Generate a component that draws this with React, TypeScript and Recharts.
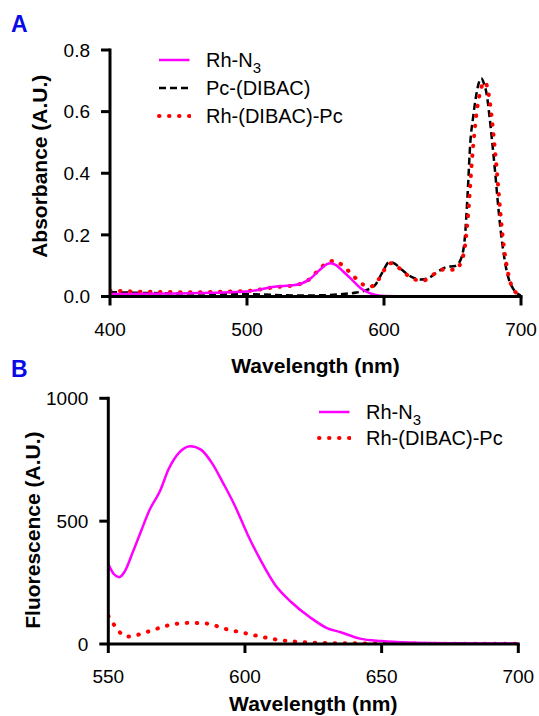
import React from 'react';
import { LineChart, Line, XAxis, YAxis, Legend, Label } from 'recharts';

const FONT = '"Liberation Sans", Arial, Helvetica, sans-serif';

// Panel A: absorbance spectra
const pcWavelength = [400, 420, 450, 480, 500, 520, 540, 555, 570, 580, 588, 594, 599, 604, 608, 613, 620, 627, 633, 640, 646, 652, 656, 659, 661, 663, 665, 667, 669, 671, 673, 675, 677, 679, 681, 683, 685, 687, 689, 691, 694, 697, 700];
const pcAbsorbance = [0.014, 0.012, 0.01, 0.009, 0.008, 0.005, 0.003, 0.004, 0.008, 0.013, 0.022, 0.04, 0.08, 0.112, 0.106, 0.087, 0.064, 0.055, 0.061, 0.083, 0.096, 0.099, 0.12, 0.19, 0.33, 0.5, 0.58, 0.645, 0.69, 0.708, 0.69, 0.655, 0.585, 0.5, 0.41, 0.31, 0.22, 0.15, 0.095, 0.058, 0.027, 0.011, 0.003];

const rhPcWavelength = [400, 430, 460, 500, 520, 535, 545, 552, 558, 564, 570, 578, 585, 590, 595, 600, 605, 611, 620, 628, 637, 645, 652, 656, 659, 662, 664, 666, 668, 670, 672, 673, 675, 677, 679, 681, 683, 685, 687, 689, 692, 696, 700];
const rhPcAbsorbance = [0.019, 0.015, 0.014, 0.018, 0.03, 0.037, 0.054, 0.085, 0.108, 0.116, 0.1, 0.065, 0.038, 0.032, 0.048, 0.085, 0.108, 0.092, 0.06, 0.051, 0.074, 0.089, 0.086, 0.11, 0.16, 0.3, 0.43, 0.53, 0.61, 0.66, 0.69, 0.697, 0.685, 0.64, 0.565, 0.475, 0.375, 0.27, 0.18, 0.115, 0.05, 0.014, 0.004];

const rhWavelength = [400, 450, 500, 520, 535, 545, 553, 558, 561, 565, 570, 576, 583, 590, 595, 600, 620, 660, 700];
const rhAbsorbance = [0.008, 0.01, 0.016, 0.032, 0.037, 0.054, 0.086, 0.104, 0.108, 0.102, 0.082, 0.057, 0.027, 0.01, 0.004, 0.002, 0.001, 0.001, 0.001];

const absTicksX = [400, 500, 600, 700];
const absTicksY = [0, 0.2, 0.4, 0.6, 0.8];

// Panel B: fluorescence spectra
const rhFlWavelength = [550, 552, 554, 556, 559, 562, 565, 569, 572, 576, 580, 584, 588, 592, 596, 601, 606, 611, 617, 624, 630, 635, 642, 650, 660, 675, 700];
const rhFluorescence = [325, 285, 272, 295, 375, 460, 543, 625, 710, 780, 805, 790, 735, 655, 570, 445, 335, 241, 170, 107, 65, 48, 22, 12, 6, 3, 2];

const rhPcFlWavelength = [550, 552, 554, 557, 561, 565, 572, 579, 586, 593, 600, 605, 611, 619, 630, 650, 700];
const rhPcFluorescence = [114, 80, 50, 30, 38, 52, 76, 86, 83, 61, 44, 32, 19, 9, 4, 2, 1];

const flTicksX = [550, 600, 650, 700];
const flTicksY = [0, 500, 1000];

const toPoints = (xs: number[], ys: number[]) => xs.map((x, i) => ({ x, y: ys[i] }));

const MAGENTA = '#ff00ff';
const RED = '#ff0000';
const BLACK = '#000000';

const styles = {
  pc: { stroke: BLACK, strokeWidth: 2.5, strokeDasharray: '7 4', strokeLinecap: 'butt' as const },
  rhPc: { stroke: RED, strokeWidth: 4, strokeDasharray: '0.5 9.5', strokeLinecap: 'round' as const },
  rh: { stroke: MAGENTA, strokeWidth: 2.5, strokeDasharray: undefined, strokeLinecap: 'butt' as const },
};

const rhLabel = (
  <span>
    Rh-N<span style={{ fontSize: 15, position: 'relative', top: 6 }}>3</span>
  </span>
);

const legendA = [
  { label: rhLabel, ...styles.rh },
  { label: 'Pc-(DIBAC)', ...styles.pc },
  { label: 'Rh-(DIBAC)-Pc', ...styles.rhPc },
];
const legendB = [
  { label: rhLabel, ...styles.rh },
  { label: 'Rh-(DIBAC)-Pc', ...styles.rhPc },
];

const makeLegend = (items: typeof legendA, rowHeight: number) => () => (
  <div style={{ fontFamily: FONT, fontSize: 20, color: '#000', lineHeight: 1 }}>
    {items.map((it, i) => (
      <div key={i} style={{ display: 'flex', alignItems: 'center', height: rowHeight }}>
        <svg width={34} height={10} style={{ marginRight: 15, display: 'block' }}>
          <line
            x1={2}
            y1={5}
            x2={32.5}
            y2={5}
            stroke={it.stroke}
            strokeWidth={it.strokeWidth}
            strokeDasharray={it.strokeDasharray}
            strokeLinecap={it.strokeLinecap}
          />
        </svg>
        <span style={{ whiteSpace: 'nowrap' }}>{it.label}</span>
      </div>
    ))}
  </div>
);

const axisLine = { stroke: '#000', strokeWidth: 3, strokeLinecap: 'square' as const };
const tickLine = { stroke: '#000', strokeWidth: 3 };
const tickStyle = { fill: '#000', fontSize: 19, fontFamily: FONT };

const yTitle = (text: string, dx: number, dy: number) => (props: any) => {
  const vb = props.viewBox || {};
  const x = vb.x + dx;
  const y = vb.y + vb.height / 2 + dy;
  return (
    <text
      x={x}
      y={y}
      transform={`rotate(-90, ${x}, ${y})`}
      textAnchor="middle"
      dominantBaseline="central"
      fontFamily={FONT}
      fontWeight="bold"
      fontSize={21}
      fill="#000"
    >
      {text}
    </text>
  );
};

const xTitle = (text: string, dy: number) => (props: any) => {
  const vb = props.viewBox || {};
  return (
    <text
      x={vb.x + vb.width / 2}
      y={vb.y + dy}
      textAnchor="middle"
      fontFamily={FONT}
      fontWeight="bold"
      fontSize={21}
      fill="#000"
    >
      {text}
    </text>
  );
};

const panelLetter: React.CSSProperties = {
  position: 'absolute',
  left: 11,
  fontFamily: FONT,
  fontWeight: 'bold',
  fontSize: 23,
  color: '#0a0ae6',
  lineHeight: 1,
};

export default function App() {
  return (
    <div style={{ position: 'absolute', top: 0, left: 0, width: 539, height: 716, background: '#fff', overflow: 'hidden' }}>
      <div style={{ ...panelLetter, top: 13 }}>A</div>
      <div style={{ ...panelLetter, top: 358 }}>B</div>

      <div style={{ position: 'absolute', top: 0, left: 0 }}>
        <LineChart width={539} height={380} margin={{ top: 50, right: 18, bottom: 23.5, left: 20 }}>
          <XAxis
            dataKey="x"
            type="number"
            domain={[400, 700]}
            ticks={absTicksX}
            height={60}
            axisLine={axisLine}
            tickLine={tickLine}
            tickSize={9}
            tickMargin={17}
            tick={tickStyle}
            allowDataOverflow
          >
            <Label content={xTitle('Wavelength (nm)', 76)} />
          </XAxis>
          <YAxis
            type="number"
            domain={[0, 0.8]}
            ticks={absTicksY}
            width={90}
            axisLine={axisLine}
            tickLine={tickLine}
            tickSize={9}
            tickMargin={11}
            tick={tickStyle}
            tickFormatter={(v: number) => v.toFixed(1)}
            allowDataOverflow
          >
            <Label content={yTitle('Absorbance (A.U.)', 19, -7)} />
          </YAxis>
          <Legend
            layout="vertical"
            align="center"
            verticalAlign="middle"
            content={makeLegend(legendA, 28)}
            wrapperStyle={{ top: 46, left: 157, width: 300, height: 'auto' }}
          />
          <Line
            data={toPoints(pcWavelength, pcAbsorbance)}
            dataKey="y"
            name="Pc-(DIBAC)"
            type="monotone"
            dot={false}
            activeDot={false}
            isAnimationActive={false}
            {...styles.pc}
          />
          <Line
            data={toPoints(rhPcWavelength, rhPcAbsorbance)}
            dataKey="y"
            name="Rh-(DIBAC)-Pc"
            type="monotone"
            dot={false}
            activeDot={false}
            isAnimationActive={false}
            {...styles.rhPc}
          />
          <Line
            data={toPoints(rhWavelength, rhAbsorbance)}
            dataKey="y"
            name="Rh-N3"
            type="monotone"
            dot={false}
            activeDot={false}
            isAnimationActive={false}
            {...styles.rh}
          />
        </LineChart>
      </div>

      <div style={{ position: 'absolute', top: 380, left: 0 }}>
        <LineChart width={539} height={336} margin={{ top: 18.3, right: 20.7, bottom: 12, left: 18.3 }}>
          <XAxis
            dataKey="x"
            type="number"
            domain={[550, 700]}
            ticks={flTicksX}
            height={60}
            axisLine={axisLine}
            tickLine={tickLine}
            tickSize={9}
            tickMargin={17}
            tick={tickStyle}
            allowDataOverflow
          >
            <Label content={xTitle('Wavelength (nm)', 67)} />
          </XAxis>
          <YAxis
            type="number"
            domain={[0, 1000]}
            ticks={flTicksY}
            width={90}
            axisLine={axisLine}
            tickLine={tickLine}
            tickSize={9}
            tickMargin={11}
            tick={tickStyle}
            allowDataOverflow
          >
            <Label content={yTitle('Fluorescence (A.U.)', 14, 9)} />
          </YAxis>
          <Legend
            layout="vertical"
            align="center"
            verticalAlign="middle"
            content={makeLegend(legendB, 26)}
            wrapperStyle={{ top: 19, left: 317, width: 220, height: 'auto' }}
          />
          <Line
            data={toPoints(rhPcFlWavelength, rhPcFluorescence)}
            dataKey="y"
            name="Rh-(DIBAC)-Pc"
            type="monotone"
            dot={false}
            activeDot={false}
            isAnimationActive={false}
            {...styles.rhPc}
          />
          <Line
            data={toPoints(rhFlWavelength, rhFluorescence)}
            dataKey="y"
            name="Rh-N3"
            type="monotone"
            dot={false}
            activeDot={false}
            isAnimationActive={false}
            {...styles.rh}
          />
        </LineChart>
      </div>
    </div>
  );
}
